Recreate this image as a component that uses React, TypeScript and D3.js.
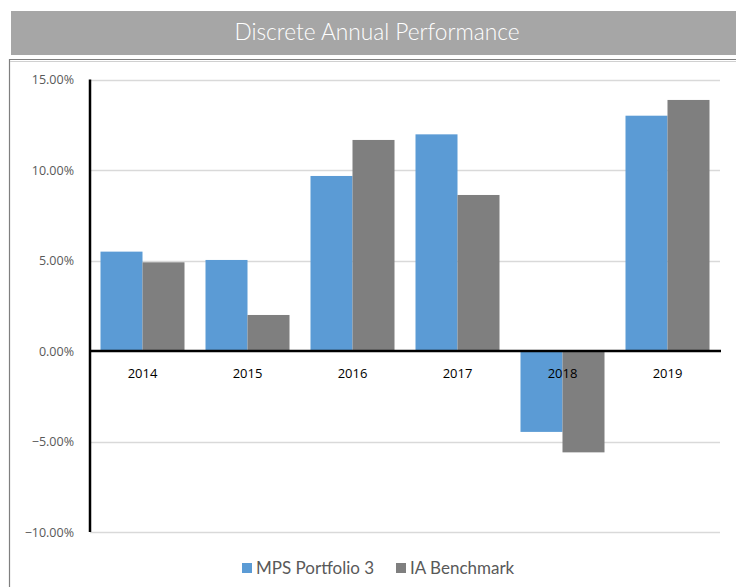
import { useEffect, useRef } from "react";
import * as d3 from "d3";

const years = ["2014", "2015", "2016", "2017", "2018", "2019"];
const mpsPortfolio = [5.49, 5.03, 9.67, 11.97, -4.47, 13.0];
const iaBenchmark = [4.9, 1.99, 11.66, 8.62, -5.6, 13.87];
const yTicks = [15, 10, 5, 0, -5, -10];
const seriesNames = ["MPS Portfolio 3", "IA Benchmark"];
const seriesColors = ["#5b9bd5", "#7f7f7f"];

const App = () => {
  const svgRef = useRef<SVGSVGElement | null>(null);

  useEffect(() => {
    const svg = d3.select(svgRef.current);
    svg.selectAll("*").remove();

    const width = 736,
      height = 587;
    const plot = { left: 90, right: 720, top: 79.5, bottom: 532 };

    // title bar
    svg
      .append("rect")
      .attr("x", 11)
      .attr("y", 11)
      .attr("width", width - 11)
      .attr("height", 44)
      .attr("fill", "#a6a6a6");
    svg
      .append("text")
      .attr("x", 377)
      .attr("y", 40)
      .attr("text-anchor", "middle")
      .attr("fill", "#ffffff")
      .style("font-family", "Lato, 'Open Sans', sans-serif")
      .style("font-size", "22.7px")
      .style("font-weight", 300)
      .text("Discrete Annual Performance");

    // chart box
    svg
      .append("path")
      .attr("d", `M9.5,${height + 2}V59.5H${width + 2}`)
      .attr("fill", "none")
      .attr("stroke", "#7f7f7f")
      .attr("stroke-width", 1.2);
    svg
      .append("line")
      .attr("x1", 10)
      .attr("x2", width)
      .attr("y1", 61.5)
      .attr("y2", 61.5)
      .attr("stroke", "#d0d0d0")
      .attr("stroke-width", 1);

    const x = d3
      .scaleBand()
      .domain(years)
      .range([plot.left, plot.right])
      .paddingInner(0.2)
      .paddingOuter(0.1);
    const x1 = d3
      .scaleBand()
      .domain(seriesNames)
      .range([0, x.bandwidth()]);
    const y = d3
      .scaleLinear()
      .domain([-10, 15])
      .range([plot.bottom, plot.top]);

    // gridlines
    svg
      .append("g")
      .selectAll("line")
      .data(yTicks.filter((t) => t !== 0))
      .enter()
      .append("line")
      .attr("x1", plot.left)
      .attr("x2", plot.right)
      .attr("y1", (d) => Math.round(y(d)) + 0.5)
      .attr("y2", (d) => Math.round(y(d)) + 0.5)
      .attr("stroke", "#d9d9d9")
      .attr("stroke-width", 1.3);

    // y tick labels
    svg
      .append("g")
      .selectAll("text")
      .data(yTicks)
      .enter()
      .append("text")
      .attr("x", 74)
      .attr("y", (d) => y(d) + 4.5)
      .attr("text-anchor", "end")
      .attr("fill", "#595959")
      .style("font-family", "'Open Sans', sans-serif")
      .style("font-size", "12.5px")
      .text((d) => d3.format(".2f")(d) + "%");

    // bars
    const series = [mpsPortfolio, iaBenchmark];
    series.forEach((vals, si) => {
      svg
        .append("g")
        .selectAll("rect")
        .data(vals)
        .enter()
        .append("rect")
        .attr("x", (_, i) => x(years[i])! + x1(seriesNames[si])!)
        .attr("y", (d) => y(Math.max(0, d)))
        .attr("width", x1.bandwidth())
        .attr("height", (d) => Math.abs(y(d) - y(0)))
        .attr("fill", seriesColors[si]);
    });

    // category labels
    svg
      .append("g")
      .selectAll("text")
      .data(years)
      .enter()
      .append("text")
      .attr("x", (d) => x(d)! + x.bandwidth() / 2)
      .attr("y", 378)
      .attr("text-anchor", "middle")
      .attr("fill", "#000000")
      .style("font-family", "'Open Sans', sans-serif")
      .style("font-size", "13px")
      .text((d) => d);

    // axes
    svg
      .append("line")
      .attr("x1", plot.left)
      .attr("x2", plot.left)
      .attr("y1", plot.top)
      .attr("y2", plot.bottom)
      .attr("stroke", "#000")
      .attr("stroke-width", 2.5);
    svg
      .append("line")
      .attr("x1", plot.left - 1)
      .attr("x2", plot.right + 1)
      .attr("y1", y(0))
      .attr("y2", y(0))
      .attr("stroke", "#000")
      .attr("stroke-width", 2.5);

    // legend
    const legendX = [242, 396];
    seriesNames.forEach((name, i) => {
      const g = svg.append("g").attr("transform", `translate(${legendX[i]},563)`);
      g.append("rect")
        .attr("width", 10)
        .attr("height", 10)
        .attr("fill", seriesColors[i]);
      g.append("text")
        .attr("x", 14)
        .attr("y", 11)
        .attr("fill", "#595959")
        .style("font-family", "Lato, 'Open Sans', sans-serif")
        .style("font-size", "17px")
        .text(name);
    });
  }, []);

  return (
    <svg
      ref={svgRef}
      width={736}
      height={587}
      style={{ position: "absolute", left: 0, top: 0, background: "#fff" }}
    ></svg>
  );
};

export default App;
